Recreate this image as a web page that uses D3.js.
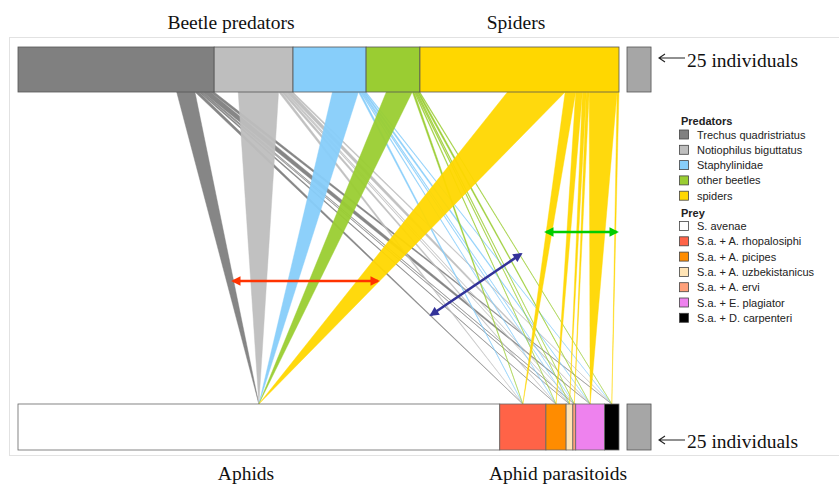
<!DOCTYPE html>
<meta charset="utf-8">
<script src="https://d3js.org/d3.v7.min.js"></script>
<style>
  body { margin: 0; background: #fff; }
  .serif { font-family: 'Liberation Serif', 'Times New Roman', serif; fill: #111; }
  .leg { font-family: 'Liberation Sans', Arial, sans-serif; font-size: 11px; fill: #222; }
</style>
<div id="chart"></div>
<script>
// predators (top level) and number of individuals
const predators = ["Trechus quadristriatus", "Notiophilus biguttatus", "Staphylinidae", "other beetles", "spiders"];
const predAbund = [204, 82, 76, 56, 207];
const predColors = ["#808080", "#bebebe", "#87cefa", "#9acd32", "#ffd700"];

// prey (bottom level)
const prey = ["S. avenae", "S.a. + A. rhopalosiphi", "S.a. + A. picipes", "S.a. + A. uzbekistanicus",
              "S.a. + A. ervi", "S.a. + E. plagiator", "S.a. + D. carpenteri"];
const preyAbund = [501, 48, 21, 7, 3, 30, 15];
const preyColors = ["#ffffff", "#ff6347", "#ff8c00", "#ffe4b5", "#ffa07a", "#ee82ee", "#000000"];

// positive detections: rows = predators, cols = prey
const links = [
  [19, 4, 2, 1, 1, 8, 4],
  [42, 3, 3, 1, 1, 5, 2],
  [27, 2, 1, 1, 1, 2, 1],
  [27, 2, 1, 1, 1, 2, 1],
  [60, 11, 7, 4, 3, 29, 2]
];
const scaleValue = 25;

const W = 839, H = 486;
const topY0 = 47, topY1 = 92, botY0 = 404, botY1 = 450;

const svg = d3.select("#chart").append("svg")
  .attr("width", W).attr("height", H);

const defs = svg.append("defs");
function marker(id, color) {
  defs.append("marker")
    .attr("id", id)
    .attr("viewBox", "0 0 10 10")
    .attr("refX", 8).attr("refY", 5)
    .attr("markerWidth", 4).attr("markerHeight", 3.6)
    .attr("markerUnits", "strokeWidth")
    .attr("orient", "auto-start-reverse")
    .append("path").attr("d", "M0,0 L10,5 L0,10 z").attr("fill", color);
}

// frame
svg.append("rect")
  .attr("x", 9.5).attr("y", 37.5).attr("width", 840).attr("height", 418)
  .attr("fill", "none").attr("stroke", "#e2e2e2");

const total = d3.sum(predAbund);
const x = d3.scaleLinear().domain([0, total]).range([18, 619]);

const predStart = predAbund.map((d, i) => d3.sum(predAbund.slice(0, i)));
const preyStart = preyAbund.map((d, i) => d3.sum(preyAbund.slice(0, i)));
const preyCenter = preyAbund.map((d, i) => x(preyStart[i] + d / 2));

// links (right aligned inside each predator box, converging on prey box centre)
const gLinks = svg.append("g");
links.forEach((row, i) => {
  let s = predStart[i] + predAbund[i] - d3.sum(row);
  row.forEach((v, j) => {
    if (v > 0) {
      gLinks.append("path")
        .attr("d", `M${x(s)},${topY1} L${x(s + v)},${topY1} L${preyCenter[j]},${botY0} Z`)
        .attr("fill", predColors[i])
        .attr("fill-opacity", 0.95)
        .attr("stroke", predColors[i])
        .attr("stroke-width", 0.5)
        .attr("stroke-opacity", 0.8);
    }
    s += v;
  });
});

// top boxes
svg.append("g").selectAll("rect")
  .data(predAbund).join("rect")
  .attr("x", (d, i) => x(predStart[i]))
  .attr("y", topY0)
  .attr("width", d => x(d) - x(0))
  .attr("height", topY1 - topY0)
  .attr("fill", (d, i) => predColors[i])
  .attr("stroke", "#555").attr("stroke-width", 0.8);

// bottom boxes
svg.append("g").selectAll("rect")
  .data(preyAbund).join("rect")
  .attr("x", (d, i) => x(preyStart[i]))
  .attr("y", botY0)
  .attr("width", d => x(d) - x(0))
  .attr("height", botY1 - botY0)
  .attr("fill", (d, i) => preyColors[i])
  .attr("stroke", "#666").attr("stroke-width", 0.8);

// scale boxes
const sbX = 627, sbW = x(scaleValue) - x(0);
[[topY0, topY1, 58, 67], [botY0, botY1, 440, 448]].forEach(([y0, y1, ay, ty]) => {
  svg.append("rect")
    .attr("x", sbX).attr("y", y0).attr("width", sbW).attr("height", y1 - y0)
    .attr("fill", "#a6a6a6").attr("stroke", "#555").attr("stroke-width", 0.8);
  svg.append("path")
    .attr("d", `M685,${ay} L659,${ay} M665,${ay - 4} L659,${ay} L665,${ay + 4}`)
    .attr("fill", "none").attr("stroke", "#222").attr("stroke-width", 1.1);
  svg.append("text").attr("class", "serif")
    .attr("x", 687).attr("y", ty)
    .style("font-size", "19.5px")
    .text(scaleValue + " individuals");
});

// level titles
const titles = [["Beetle predators", 231, 29], ["Spiders", 516, 29], ["Aphids", 246, 480], ["Aphid parasitoids", 558, 480]];
svg.append("g").selectAll("text")
  .data(titles).join("text")
  .attr("class", "serif")
  .attr("x", d => d[1]).attr("y", d => d[2])
  .attr("text-anchor", "middle")
  .style("font-size", "19.5px")
  .text(d => d[0]);

// annotation arrows
const arrows = [
  { id: "ar", color: "#ff3300", x1: 233, y1: 281, x2: 378, y2: 281 },
  { id: "ab", color: "#333399", x1: 431, y1: 315, x2: 521, y2: 254 },
  { id: "ag", color: "#00cc00", x1: 546, y1: 232, x2: 617, y2: 232 }
];
arrows.forEach(a => {
  marker(a.id, a.color);
  svg.append("line")
    .attr("x1", a.x1).attr("y1", a.y1).attr("x2", a.x2).attr("y2", a.y2)
    .attr("stroke", a.color).attr("stroke-width", 2.6)
    .attr("marker-start", `url(#${a.id})`)
    .attr("marker-end", `url(#${a.id})`);
});

// legend
const lg = svg.append("g").attr("transform", "translate(679,0)");
const step = 15.3;
lg.append("text").attr("class", "leg").attr("x", 2).attr("y", 125)
  .style("font-weight", "bold").text("Predators");
predators.forEach((p, i) => {
  const cy = 134.5 + i * step;
  lg.append("rect").attr("x", 0.5).attr("y", cy - 4.5).attr("width", 9).attr("height", 9)
    .attr("fill", predColors[i]).attr("stroke", "#444").attr("stroke-width", 0.8);
  lg.append("text").attr("class", "leg").attr("x", 18).attr("y", cy + 4).text(p);
});
lg.append("text").attr("class", "leg").attr("x", 2).attr("y", 217)
  .style("font-weight", "bold").text("Prey");
prey.forEach((p, i) => {
  const cy = 226 + i * step;
  lg.append("rect").attr("x", 0.5).attr("y", cy - 4.5).attr("width", 9).attr("height", 9)
    .attr("fill", preyColors[i]).attr("stroke", "#444").attr("stroke-width", 0.8);
  lg.append("text").attr("class", "leg").attr("x", 18).attr("y", cy + 4).text(p);
});
</script>
